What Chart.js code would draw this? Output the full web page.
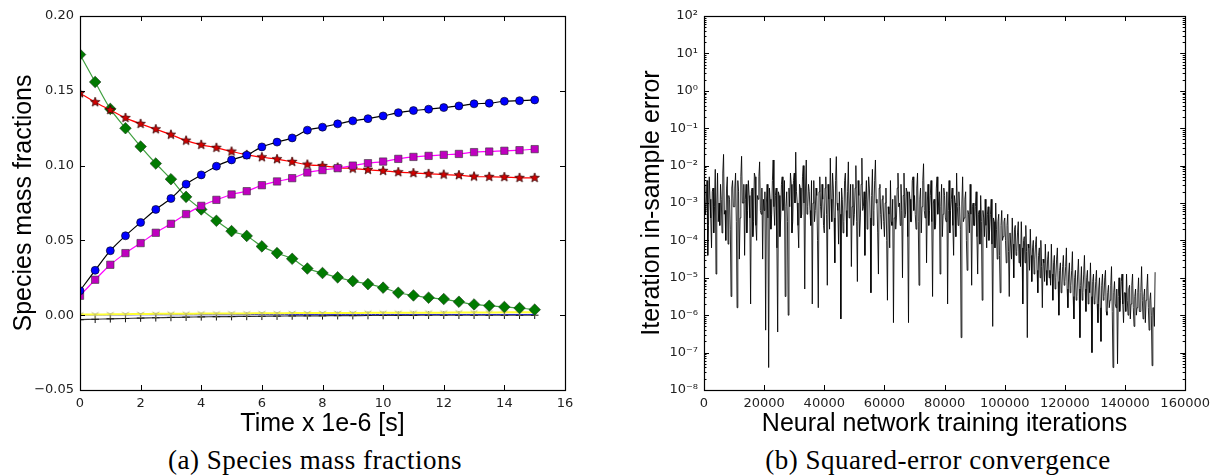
<!DOCTYPE html>
<html>
<head>
<meta charset="utf-8">
<script src="https://cdn.jsdelivr.net/npm/chart.js@4.4.1/dist/chart.umd.min.js"></script>
<style>
  html, body { margin: 0; padding: 0; background: #fff; }
  #page { position: relative; width: 1216px; height: 475px; overflow: hidden; }
  .panel { position: absolute; top: 0; }
  #left { left: 0; }
  #right { left: 620px; }
  .caption {
    position: absolute; top: 445px; width: 440px; text-align: center; white-space: nowrap;
    font-family: "Liberation Serif", "DejaVu Serif", serif; font-size: 27px; letter-spacing: 0.5px; color: #000;
  }
</style>
</head>
<body>
<div id="page">
  <div class="panel" id="left"><canvas id="speciesChart" width="600" height="440"></canvas></div>
  <div class="panel" id="right"><canvas id="errorChart" width="596" height="440"></canvas></div>
  <div class="caption" style="left:95px;">(a) Species mass fractions</div>
  <div class="caption" style="left:718px;">(b) Squared-error convergence</div>
</div>
<script>
// ---- (a) species mass fractions, sampled every 0.5e-6 s ----
const timeSteps = [0, 0.5, 1, 1.5, 2, 2.5, 3, 3.5, 4, 4.5, 5, 5.5, 6, 6.5, 7, 7.5,
  8, 8.5, 9, 9.5, 10, 10.5, 11, 11.5, 12, 12.5, 13, 13.5, 14, 14.5, 15];

const blueCircles = [0.0164, 0.030, 0.0431, 0.0531, 0.062, 0.0707, 0.078, 0.0876, 0.0938, 0.0996,
  0.1038, 0.107, 0.1125, 0.1157, 0.1185, 0.1237, 0.1257, 0.1279, 0.1299, 0.1314,
  0.1332, 0.1354, 0.1368, 0.1377, 0.1388, 0.1399, 0.1413, 0.1417, 0.143, 0.1434, 0.1439];
const magentaSquares = [0.013, 0.0237, 0.0337, 0.0415, 0.0482, 0.0551, 0.0611, 0.0676, 0.0731, 0.0771,
  0.0807, 0.0829, 0.0869, 0.0894, 0.0916, 0.0954, 0.097, 0.0983, 0.1, 0.1016,
  0.1027, 0.1045, 0.1058, 0.1065, 0.1072, 0.1078, 0.109, 0.1094, 0.1099, 0.1103, 0.111];
const redStars = [0.1484, 0.1424, 0.1372, 0.1319, 0.1279, 0.1243, 0.1207, 0.1167, 0.1139, 0.1119,
  0.1094, 0.1072, 0.1056, 0.1043, 0.1025, 0.1007, 0.0998, 0.0987, 0.098, 0.0972,
  0.0965, 0.0956, 0.095, 0.0945, 0.094, 0.0936, 0.0927, 0.0925, 0.0923, 0.0918, 0.0918];
const greenDiamonds = [0.1742, 0.1559, 0.1379, 0.125, 0.1127, 0.1014, 0.0909, 0.0791, 0.0707, 0.0631,
  0.0562, 0.053, 0.046, 0.0415, 0.0377, 0.0312, 0.0282, 0.0253, 0.0228, 0.0208,
  0.0184, 0.015, 0.0132, 0.0117, 0.0108, 0.009, 0.0072, 0.0063, 0.0055, 0.0048, 0.0037];
const yellowTri = [0.0004, 0.0005, 0.0006, 0.0007, 0.0008, 0.0009, 0.001, 0.001, 0.0011, 0.0011,
  0.0012, 0.0012, 0.0013, 0.0013, 0.0014, 0.0014, 0.0015, 0.0015, 0.0015, 0.0016,
  0.0016, 0.0016, 0.0017, 0.0017, 0.0017, 0.0018, 0.0018, 0.0018, 0.0019, 0.0019, 0.002];
const blueFlat = [0.0002, 0.0002, 0.0002, 0.0002, 0.0003, 0.0003, 0.0003, 0.0003, 0.0003, 0.0003,
  0.0003, 0.0004, 0.0004, 0.0004, 0.0004, 0.0004, 0.0004, 0.0004, 0.0004, 0.0004,
  0.0005, 0.0005, 0.0005, 0.0005, 0.0005, 0.0005, 0.0005, 0.0005, 0.0005, 0.0005, 0.0005];
const blackPlus = [-0.003, -0.0027, -0.0024, -0.0022, -0.0019, -0.0017, -0.0015, -0.0013, -0.0011, -0.001,
  -0.0009, -0.0008, -0.0007, -0.0006, -0.0005, -0.0004, -0.0004, -0.0003, -0.0003, -0.0002,
  -0.0002, -0.0001, -0.0001, 0, 0, 0, 0, 0, 0, 0, 0];

const speciesYTicks = [-0.05, 0, 0.05, 0.10, 0.15, 0.20];

// ---- (b) training error, one sample every 250 iterations, stored as log10 ----
// one row = 5000 iterations
const iterStep = 250;
const errorLog10 = [
  -2.8, -2.5, -3.3, -3.0, -2.4, -4.4, -3.6, -2.3, -2.9, -3.4, -4.2, -2.7, -2.6, -3.8, -3.1, -2.1, -4.9, -3.0, -2.2, -3.5,
  -3.0, -3.6, -2.5, -2.9, -3.8, -2.2, -1.7, -3.3, -3.2, -4.0, -2.6, -2.3, -4.1, -2.8, -2.9, -3.7, -5.5, -2.6, -2.4, -3.1,
  -3.1, -2.6, -2.2, -3.5, -5.8, -2.4, -2.7, -4.5, -3.4, -2.3, -1.75, -3.0, -3.0, -2.5, -4.4, -2.9, -2.5, -3.8, -3.2, -2.4,
  -2.8, -3.4, -5.7, -2.7, -2.6, -3.9, -3.5, -2.2, -2.3, -3.6, -4.0, -2.8, -2.9, -2.3, -1.9, -3.2, -3.3, -2.6, -4.5, -2.9,
  -3.2, -2.7, -6.4, -3.0, -2.5, -3.4, -7.4, -2.6, -2.9, -3.7, -3.3, -2.4, -1.85, -3.1, -3.6, -2.8, -2.6, -4.2, -6.45, -2.7,
  -2.8, -3.9, -3.4, -2.5, -2.3, -3.2, -3.0, -2.4, -5.5, -3.1, -2.7, -3.5, -6.0, -2.6, -3.1, -2.2, -2.5, -3.8, -3.5, -2.4,
  -2.2, -3.0, -1.64, -2.7, -3.0, -3.6, -4.2, -2.5, -2.6, -3.4, -3.3, -2.3, -2.0, -3.0, -5.3, -2.6, -1.85, -3.3, -3.1, -2.5,
  -2.7, -3.2, -3.6, -2.4, -5.7, -3.0, -2.4, -3.5, -3.2, -2.6, -2.8, -4.0, -5.8, -2.7, -2.3, -3.1, -3.4, -2.5, -2.9, -3.6,
  -3.8, -2.6, -2.3, -3.3, -5.2, -2.5, -2.9, -3.7, -1.8, -2.9, -3.5, -2.2, -2.6, -3.4, -4.6, -2.4, -1.76, -3.0, -3.2, -4.1,
  -2.7, -3.3, -6.1, -2.6, -2.9, -3.8, -3.5, -2.4, -2.2, -3.2, -3.9, -2.7, -1.9, -3.4, -3.0, -2.5, -4.7, -3.1, -2.5, -3.6,
  -3.3, -2.6, -2.0, -3.5, -5.1, -2.4, -2.8, -3.9, -3.4, -2.5, -1.8, -3.2, -3.1, -2.7, -4.4, -2.9, -2.4, -3.7, -3.0, -2.3,
  -2.6, -3.4, -5.4, -2.8, -2.1, -3.6, -3.2, -2.4, -1.85, -3.0, -2.9, -3.8, -4.9, -2.6, -2.5, -3.3, -3.7, -2.9, -2.8, -3.5,
  -3.9, -3.0, -2.6, -4.0, -5.6, -3.1, -3.3, -4.2, -2.4, -3.5, -3.6, -2.9, -6.2, -3.4, -2.8, -3.7, -3.4, -2.6, -2.2, -3.1,
  -3.0, -3.6, -2.5, -3.2, -5.0, -2.8, -2.2, -3.4, -3.3, -2.6, -2.7, -3.9, -6.2, -2.7, -2.9, -3.5, -3.5, -2.4, -2.3, -3.2,
  -2.8, -3.3, -3.7, -2.6, -2.2, -3.5, -5.2, -2.9, -2.6, -3.8, -3.1, -2.4, -1.95, -3.2, -3.4, -2.7, -4.6, -3.0, -2.5, -3.6,
  -3.2, -2.8, -2.4, -3.5, -5.5, -3.0, -2.9, -3.7, -3.6, -2.6, -2.3, -3.3, -3.0, -2.7, -4.9, -3.1, -2.5, -3.9, -3.3, -2.6,
  -2.8, -3.4, -3.5, -2.7, -5.7, -3.2, -2.4, -3.8, -3.2, -2.9, -2.6, -3.6, -4.4, -2.8, -3.0, -3.9, -2.2, -3.1, -3.6, -2.7,
  -3.1, -3.7, -6.6, -3.0, -2.3, -3.5, -3.4, -2.9, -2.7, -4.0, -4.8, -3.2, -3.3, -3.8, -2.5, -3.3, -5.2, -3.1, -3.0, -3.6,
  -3.6, -3.1, -2.7, -3.9, -4.9, -3.3, -3.2, -4.1, -2.8, -3.5, -5.6, -3.2, -3.4, -3.9, -2.9, -3.6, -4.2, -3.3, -3.1, -4.0,
  -3.7, -3.3, -2.9, -4.1, -6.3, -3.4, -3.5, -4.2, -3.0, -3.7, -4.5, -3.5, -3.3, -4.4, -5.4, -3.6, -3.2, -4.0, -3.9, -3.5,
  -3.4, -4.0, -4.6, -3.6, -3.3, -4.3, -5.5, -3.8, -3.8, -4.5, -3.4, -4.1, -5.0, -3.7, -3.6, -4.4, -4.3, -3.8, -3.5, -4.6,
  -4.1, -4.7, -3.5, -4.2, -5.7, -4.0, -3.9, -4.6, -3.6, -4.3, -6.6, -4.1, -4.2, -4.8, -3.7, -4.4, -5.1, -4.2, -4.0, -4.9,
  -4.5, -4.1, -3.9, -4.8, -5.4, -4.4, -4.2, -5.0, -4.0, -4.7, -5.8, -4.5, -4.6, -5.1, -4.1, -4.8, -5.2, -4.5, -4.3, -5.0,
  -4.8, -5.2, -4.1, -4.9, -5.6, -4.6, -4.4, -5.3, -5.0, -4.5, -4.2, -5.1, -6.0, -4.8, -4.6, -5.4, -5.3, -4.7, -4.4, -5.2,
  -5.1, -4.7, -4.2, -5.3, -5.8, -4.9, -4.6, -5.4, -5.2, -4.8, -4.3, -5.5, -6.1, -5.0, -4.8, -5.6, -5.5, -4.9, -4.5, -5.3,
  -6.6, -5.2, -4.7, -5.6, -5.4, -4.9, -4.4, -5.3, -5.9, -5.0, -4.8, -5.7, -5.1, -5.4, -4.6, -5.5, -7.0, -5.1, -4.9, -5.7,
  -5.6, -5.1, -4.8, -5.7, -6.2, -5.3, -5.0, -5.8, -6.7, -5.2, -4.9, -5.6, -5.5, -5.0, -4.8, -5.9, -6.0, -5.4, -5.2, -5.8,
  -5.6, -5.2, -4.7, -5.9, -7.4, -5.4, -5.1, -5.7, -5.8, -5.3, -7.3, -5.5, -5.0, -5.9, -5.6, -5.1, -4.9, -5.7, -6.2, -5.4,
  -5.4, -5.9, -4.9, -5.6, -6.0, -5.3, -5.2, -6.1, -5.7, -5.2, -4.9, -5.8, -6.3, -5.5, -5.3, -6.0, -5.8, -5.4, -5.0, -5.9,
  -5.9, -5.4, -4.7, -5.6, -6.1, -5.5, -5.3, -6.2, -5.6, -5.3, -4.9, -5.8, -6.4, -5.6, -5.4, -6.0, -7.35, -5.8, -5.8, -6.3,
  -4.85
];
const errorDecades = [-8, -7, -6, -5, -4, -3, -2, -1, 0, 1, 2];

// ---------------------------------------------------------------
const TICK_FONT = { family: 'DejaVu Sans', size: 13 };
const TITLE_FONT = { family: 'Liberation Sans', size: 25 };
const SUP = { '-': '\u207B', '0': '\u2070', '1': '\u00B9', '2': '\u00B2', '3': '\u00B3', '4': '\u2074',
  '5': '\u2075', '6': '\u2076', '7': '\u2077', '8': '\u2078', '9': '\u2079' };

function pairs(xs, ys) {
  return ys.map((y, i) => ({ x: xs[i], y }));
}

// filled five-point star (matplotlib '*')
function starMarker(r, fill, edge) {
  const c = document.createElement('canvas');
  const s = Math.ceil(r * 2 + 2);
  c.width = c.height = s;
  const g = c.getContext('2d');
  g.beginPath();
  for (let i = 0; i < 10; i++) {
    const rad = i % 2 ? r * 0.42 : r;
    const ang = -Math.PI / 2 + i * Math.PI / 5;
    g.lineTo(s / 2 + rad * Math.cos(ang), s / 2 + rad * Math.sin(ang));
  }
  g.closePath();
  g.fillStyle = fill;
  g.fill();
  g.strokeStyle = edge;
  g.lineWidth = 0.8;
  g.stroke();
  return c;
}

// tri_down (matplotlib '1')
function triDownMarker(r, color) {
  const c = document.createElement('canvas');
  const s = Math.ceil(r * 2 + 2);
  c.width = c.height = s;
  const g = c.getContext('2d');
  const m = s / 2;
  g.strokeStyle = color;
  g.lineWidth = 1;
  g.beginPath();
  g.moveTo(m, m); g.lineTo(m, m + r);
  g.moveTo(m, m); g.lineTo(m - 0.87 * r, m - 0.5 * r);
  g.moveTo(m, m); g.lineTo(m + 0.87 * r, m - 0.5 * r);
  g.stroke();
  return c;
}

// box around the plot and inward ticks on all four sides
const frameTicks = {
  id: 'frameTicks',
  afterDatasetsDraw(chart) {
    const { ctx, chartArea: a, scales } = chart;
    const sx = scales.x, sy = scales.y;
    ctx.save();
    ctx.strokeStyle = '#000';
    ctx.lineWidth = 1;
    ctx.beginPath();
    sx.ticks.forEach(t => {
      const px = Math.round(sx.getPixelForValue(t.value)) + 0.5;
      ctx.moveTo(px, a.bottom); ctx.lineTo(px, a.bottom - 5);
      ctx.moveTo(px, a.top); ctx.lineTo(px, a.top + 5);
    });
    sy.ticks.forEach(t => {
      const py = Math.round(sy.getPixelForValue(t.value)) + 0.5;
      ctx.moveTo(a.left, py); ctx.lineTo(a.left + 5, py);
      ctx.moveTo(a.right, py); ctx.lineTo(a.right - 5, py);
    });
    if (sy.type === 'logarithmic') {
      errorDecades.slice(0, -1).forEach(d => {
        for (let k = 2; k <= 9; k++) {
          const py = Math.round(sy.getPixelForValue(k * Math.pow(10, d))) + 0.5;
          ctx.moveTo(a.left, py); ctx.lineTo(a.left + 2.5, py);
          ctx.moveTo(a.right, py); ctx.lineTo(a.right - 2.5, py);
        }
      });
    }
    ctx.stroke();
    ctx.lineWidth = 1.2;
    ctx.strokeRect(Math.round(a.left) + 0.5, Math.round(a.top) + 0.5,
      Math.round(a.width), Math.round(a.height));
    ctx.restore();
  }
};

const NO_GRID = { display: false, drawTicks: false };

// ---- chart (a) ----
new Chart(document.getElementById('speciesChart'), {
  type: 'line',
  data: {
    datasets: [
      {
        data: pairs(timeSteps, blueCircles), borderColor: '#000', borderWidth: 1.2,
        pointStyle: 'circle', pointRadius: 4, pointBackgroundColor: '#0000ff',
        pointBorderColor: '#000', pointBorderWidth: 0.6, tension: 0.3
      },
      {
        data: pairs(timeSteps, magentaSquares), borderColor: '#ff00ff', borderWidth: 1.2,
        pointStyle: 'rect', pointRadius: 5.2, pointBackgroundColor: '#bf00bf',
        pointBorderColor: '#333', pointBorderWidth: 0.6, tension: 0.3
      },
      {
        data: pairs(timeSteps, redStars), borderColor: '#ff0000', borderWidth: 1.2,
        pointStyle: starMarker(5, '#d40000', '#300'), tension: 0.3
      },
      {
        data: pairs(timeSteps, greenDiamonds), borderColor: '#3f9f3f', borderWidth: 1.2,
        pointStyle: 'rectRot', pointRadius: 5.8, pointBackgroundColor: '#007a00',
        pointBorderColor: '#1c3a1c', pointBorderWidth: 0.6, tension: 0.3
      },
      {
        data: pairs(timeSteps, yellowTri), borderColor: '#ffff33', borderWidth: 2,
        pointStyle: triDownMarker(4, '#b8b870'), tension: 0.3
      },
      {
        data: pairs(timeSteps, blueFlat), borderColor: '#2020c8', borderWidth: 1,
        pointRadius: 0, tension: 0.3
      },
      {
        data: pairs(timeSteps, blackPlus), borderColor: '#333', borderWidth: 1.2,
        pointStyle: 'cross', pointRadius: 3.8, pointBorderColor: '#111',
        pointBorderWidth: 1, tension: 0.3
      }
    ]
  },
  options: {
    responsive: false,
    animation: false,
    events: [],
    layout: { padding: { top: 16, right: 35, left: 0, bottom: 0 } },
    plugins: { legend: { display: false }, tooltip: { enabled: false } },
    scales: {
      x: {
        type: 'linear', min: 0, max: 16,
        grid: NO_GRID, border: { display: false },
        ticks: { stepSize: 2, autoSkip: false, maxRotation: 0, padding: 6, color: '#222', font: TICK_FONT },
        title: { display: true, text: 'Time x 1e-6 [s]', color: '#000', font: TITLE_FONT, padding: { top: 0, bottom: 1 } },
        afterFit: s => { s.height = 50; }
      },
      y: {
        type: 'linear', min: -0.05, max: 0.20,
        grid: NO_GRID, border: { display: false },
        afterBuildTicks: axis => { axis.ticks = speciesYTicks.map(v => ({ value: v })); },
        ticks: {
          autoSkip: false, padding: 6, color: '#222', font: TICK_FONT,
          callback: v => v.toFixed(2).replace('-', '\u2212')
        },
        title: { display: true, text: 'Species mass fractions', color: '#000', font: TITLE_FONT, padding: { top: 9, bottom: 0 } },
        afterFit: s => { s.width = 80; }
      }
    }
  },
  plugins: [frameTicks]
});

// ---- chart (b) ----
new Chart(document.getElementById('errorChart'), {
  type: 'line',
  data: {
    datasets: [{
      data: errorLog10.map((e, i) => ({ x: i * iterStep, y: Math.pow(10, e) })),
      borderColor: 'rgba(0,0,0,0.85)', borderWidth: 1, pointRadius: 0, tension: 0
    }]
  },
  options: {
    responsive: false,
    animation: false,
    events: [],
    layout: { padding: { top: 16, right: 27, left: 0, bottom: 0 } },
    plugins: { legend: { display: false }, tooltip: { enabled: false } },
    scales: {
      x: {
        type: 'linear', min: 0, max: 160000,
        grid: NO_GRID, border: { display: false },
        ticks: { stepSize: 20000, autoSkip: false, maxRotation: 0, padding: 6, color: '#222', font: TICK_FONT,
          callback: v => String(v) },
        title: { display: true, text: 'Neural network training iterations', color: '#000', font: TITLE_FONT, padding: { top: 0, bottom: 1 } },
        afterFit: s => { s.height = 50; }
      },
      y: {
        type: 'logarithmic', min: 1e-8, max: 1e2,
        grid: NO_GRID, border: { display: false },
        afterBuildTicks: axis => { axis.ticks = errorDecades.map(d => ({ value: Math.pow(10, d) })); },
        ticks: {
          autoSkip: false, padding: 6, color: '#222', font: TICK_FONT,
          callback: v => '10' + String(Math.round(Math.log10(v))).split('').map(ch => SUP[ch]).join('')
        },
        title: { display: true, text: 'Iteration in-sample error', color: '#000', font: TITLE_FONT, padding: { top: 17, bottom: 0 } },
        afterFit: s => { s.width = 84; }
      }
    }
  },
  plugins: [frameTicks]
});
</script>
</body>
</html>
